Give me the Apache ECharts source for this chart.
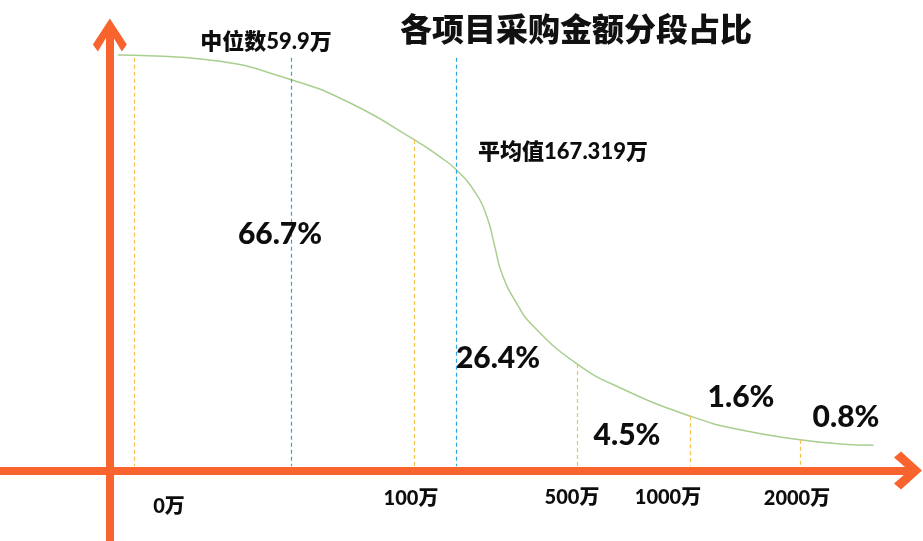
<!DOCTYPE html>
<html>
<head>
<meta charset="utf-8">
<script src="https://cdn.jsdelivr.net/npm/echarts@6/dist/echarts.min.js"></script>
<style>
  html, body { margin: 0; padding: 0; background: #fff; }
  #chart { width: 923px; height: 541px; }
</style>
</head>
<body>
<div id="chart"></div>
<script>
// 分段边界（万元）与刻度文字
const tickAmounts = [0, 100, 500, 1000, 2000];
const tickLabels = ['0万', '100万', '500万', '1000万', '2000万'];
// 各金额段的项目占比（%）
const segmentShares = [66.7, 26.4, 4.5, 1.6, 0.8];
// 中位数与平均值（万元）
const medianAmount = 59.9;
const meanAmount = 167.319;
// 示意分布曲线：横向为显示刻度位置，纵向为相对高度
const curveX = [0.9, 2.7, 11.0, 20.0, 26.5, 33.6, 36.4, 38.2, 40.3, 41.6, 42.4, 43.2, 44.8, 46.6, 51.5, 56.3, 64.0, 69.5, 76.1, 80.5, 84.2];
const curveY = [100.2, 100.1, 99.0, 94.2, 88.6, 79.7, 75.6, 72.5, 67.0, 61.0, 54.4, 47.6, 40.5, 35.0, 25.7, 19.9, 13.1, 9.8, 7.4, 6.4, 6.1];

// ---- 版式 ----
const ORANGE = '#F9642E';
const YELLOW = '#F6C24E';
const BLUE = '#2FA4DE';
const CURVE = '#A9CF8F';
const FONT = 'Lato, "Noto Sans CJK SC", sans-serif';
const GUIDE_TOP = 99.5;
const GUIDE_BOTTOM = 1.0;
// 金额 → 显示刻度位置（非线性示意刻度）
const scaleKnots = {
  amount: [0, 59.9, 100, 167.319, 500, 1000, 2000],
  pos:    [2.7, 20.0, 33.6, 38.2, 51.5, 64.0, 76.1]
};
const shareLabelAt = [[280, 234], [498, 358], [627, 435], [741, 397], [846, 417]];
const tickLabelAt = [[169, 507], [411, 499], [572, 498], [668, 498], [797, 499]];
const medianLabelAt = [266, 42];
const meanLabelAt = [563, 152];

function interp(xs, ys, x) {
  if (x <= xs[0]) return ys[0];
  for (let i = 1; i < xs.length; i++) {
    if (x <= xs[i]) {
      const t = (x - xs[i - 1]) / (xs[i] - xs[i - 1]);
      return ys[i - 1] + t * (ys[i] - ys[i - 1]);
    }
  }
  return ys[ys.length - 1];
}
const toPos = a => interp(scaleKnots.amount, scaleKnots.pos, a);
const curveAt = x => interp(curveX, curveY, x);

const guideLines = [];
tickAmounts.forEach(a => {
  const x = toPos(a);
  guideLines.push([
    { coord: [x, Math.min(curveAt(x), GUIDE_TOP)], lineStyle: { color: YELLOW } },
    { coord: [x, GUIDE_BOTTOM] }
  ]);
});
[medianAmount, meanAmount].forEach(a => {
  const x = toPos(a);
  guideLines.push([
    { coord: [x, GUIDE_TOP], lineStyle: { color: BLUE } },
    { coord: [x, GUIDE_BOTTOM] }
  ]);
});

function textEl(str, at, size) {
  return {
    type: 'text', x: at[0], y: at[1], silent: true, z: 10,
    style: {
      text: str, fill: '#0d0d0d', fontSize: size, fontWeight: 900,
      fontFamily: FONT, align: 'center', verticalAlign: 'middle'
    }
  };
}

const graphics = [];
segmentShares.forEach((s, i) => graphics.push(textEl(s.toFixed(1) + '%', shareLabelAt[i], 30)));
tickLabels.forEach((t, i) => graphics.push(textEl(t, tickLabelAt[i], 20)));
graphics.push(textEl('中位数' + medianAmount + '万', medianLabelAt, 22));
graphics.push(textEl('平均值' + meanAmount + '万', meanLabelAt, 22));

const chart = echarts.init(document.getElementById('chart'), null, { renderer: 'canvas' });
chart.setOption({
  animation: false,
  backgroundColor: '#fff',
  title: {
    text: '各项目采购金额分段占比',
    left: 395, top: 8,
    textStyle: { fontFamily: '"Noto Sans CJK SC"', fontSize: 32, fontWeight: 900, color: '#111' }
  },
  grid: { left: 1, right: 15, top: 35, bottom: 0, containLabel: false, outerBoundsMode: 'none' },
  xAxis: {
    type: 'value', min: -12, max: 88,
    axisLine: {
      onZero: true,
      symbol: ['none', 'path://M19,0 L38,21 L32,28 L19,13 L6,28 L0,21 Z'],
      symbolSize: [38, 28],
      lineStyle: { color: ORANGE, width: 8 }
    },
    axisTick: { show: false }, axisLabel: { show: false }, splitLine: { show: false }
  },
  yAxis: {
    type: 'value', min: -17, max: 105,
    axisLine: {
      onZero: true,
      symbol: ['none', 'path://M17,0 L34,26 L29,33 L17,13 L5,33 L0,26 Z'],
      symbolSize: [34, 33],
      lineStyle: { color: ORANGE, width: 8 }
    },
    axisTick: { show: false }, axisLabel: { show: false }, splitLine: { show: false }
  },
  series: [
    {
      type: 'line',
      data: curveX.map((x, i) => [x, curveY[i]]),
      smooth: 0.5,
      symbol: 'none',
      lineStyle: { color: CURVE, width: 1.5 },
      silent: true,
      z: 3
    },
    {
      type: 'line',
      data: [],
      silent: true,
      markLine: {
        silent: true,
        symbol: ['none', 'none'],
        label: { show: false },
        lineStyle: { type: [4, 3], width: 1.2 },
        emphasis: { disabled: true },
        data: guideLines
      },
      z: 2
    }
  ],
  graphic: graphics
});
</script>
</body>
</html>
